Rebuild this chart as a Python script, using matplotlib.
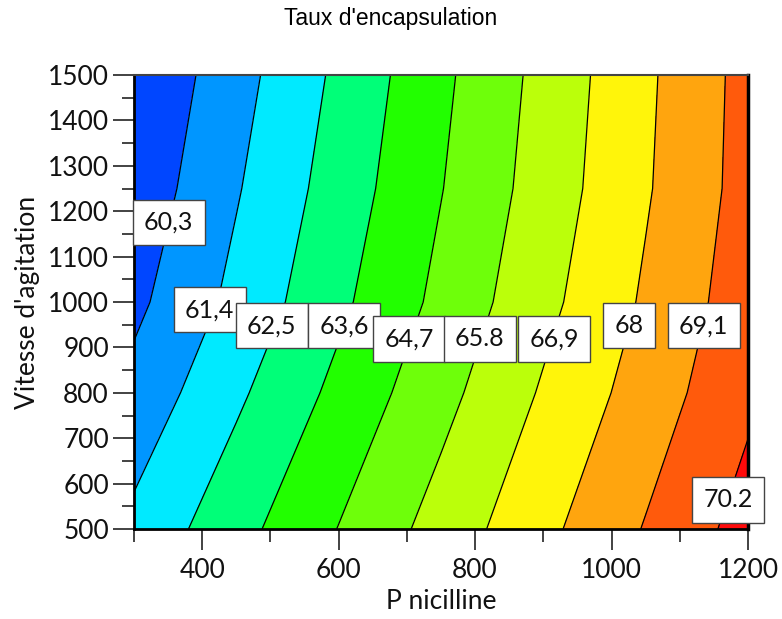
import numpy as np
import matplotlib
matplotlib.use("Agg")
import matplotlib.pyplot as plt
from matplotlib.colors import ListedColormap, BoundaryNorm
from matplotlib.ticker import MultipleLocator

# Response surface: encapsulation rate over penicillin amount / stirring speed
penicilline = [300, 450, 600, 750, 900, 1050, 1200]
agitation = [500, 800, 1000, 1250, 1500]
taux = [
    [61.68, 63.22, 64.73, 66.24, 67.72, 69.17, 70.63],
    [60.65, 62.30, 63.89, 65.45, 67.02, 68.50, 69.98],
    [60.04, 61.70, 63.37, 64.98, 66.59, 68.15, 69.70],
    [59.57, 61.31, 63.00, 64.66, 66.28, 67.89, 69.51],
    [59.24, 60.99, 62.72, 64.46, 66.13, 67.80, 69.47],
]
niveaux = [60.3, 61.4, 62.5, 63.6, 64.7, 65.8, 66.9, 68.0, 69.1, 70.2]
etiquettes = ["60,3", "61,4", "62,5", "63,6", "64,7", "65.8", "66,9", "68", "69,1", "70.2"]

couleurs = ["#0046ff", "#0096ff", "#00eaff", "#00ff78", "#22ff00", "#6eff0a",
            "#bbff0a", "#fff50a", "#ffa50e", "#ff5a0c", "#ff0a0a"]

# where each level label sits (data coordinates)
pos_etiquettes = [(351, 1175), (411, 983), (502, 948), (608, 948), (703, 919),
                  (807, 919), (916, 919), (1026, 948), (1135, 948), (1171, 564)]

police = ["Lato", "DejaVu Sans"]
encre = "#111111"

X, Y = np.meshgrid(penicilline, agitation)
Z = np.array(taux)

fig = plt.figure(figsize=(7.82, 6.19), dpi=100)
ax = fig.add_axes([134 / 782, 1 - 529 / 619, 614 / 782, 454 / 619])

bornes = [55.0] + niveaux + [75.0]
cmap = ListedColormap(couleurs)
norm = BoundaryNorm(bornes, cmap.N)
ax.contourf(X, Y, Z, levels=bornes, cmap=cmap, norm=norm)
ax.contour(X, Y, Z, levels=niveaux, colors="black", linewidths=0.9)

for (px, py), txt in zip(pos_etiquettes, etiquettes):
    ax.text(px, py, txt, ha="center", va="center", fontsize=18,
            family=police, fontweight="normal", color=encre,
            bbox=dict(boxstyle="square,pad=0.45", facecolor="white",
                      edgecolor="#444444", linewidth=1.0))

ax.set_xlim(300, 1200)
ax.set_ylim(500, 1500)
ax.xaxis.set_major_locator(MultipleLocator(200))
ax.xaxis.set_minor_locator(MultipleLocator(100))
ax.yaxis.set_major_locator(MultipleLocator(100))
ax.yaxis.set_minor_locator(MultipleLocator(50))
ax.tick_params(which="major", direction="out", length=15, width=1.2, color="#222222")
ax.tick_params(which="minor", direction="out", length=9, width=1.2, color="#222222")
ax.tick_params(axis="y", which="major", pad=3)
ax.tick_params(axis="x", which="major", pad=6)
for lab in ax.get_xticklabels() + ax.get_yticklabels():
    lab.set_family(police)
    lab.set_fontweight("normal")
    lab.set_fontsize(19)
    lab.set_color(encre)

for side in ("left", "bottom"):
    ax.spines[side].set_linewidth(2.0)
ax.spines["right"].set_linewidth(2.5)
ax.spines["top"].set_linewidth(1.5)
ax.spines["top"].set_color("#444444")

ax.set_xlabel("P nicilline", family=police, fontsize=19, color=encre, labelpad=4)
ax.set_ylabel("Vitesse d'agitation", family=police, fontsize=19, color=encre, labelpad=6)
fig.text(0.5, 1 - 19 / 619, "Taux d'encapsulation", ha="center", va="center",
         family=["Liberation Sans Narrow", "Liberation Sans"], fontsize=16.5)

fig.savefig("out.png", dpi=100)
